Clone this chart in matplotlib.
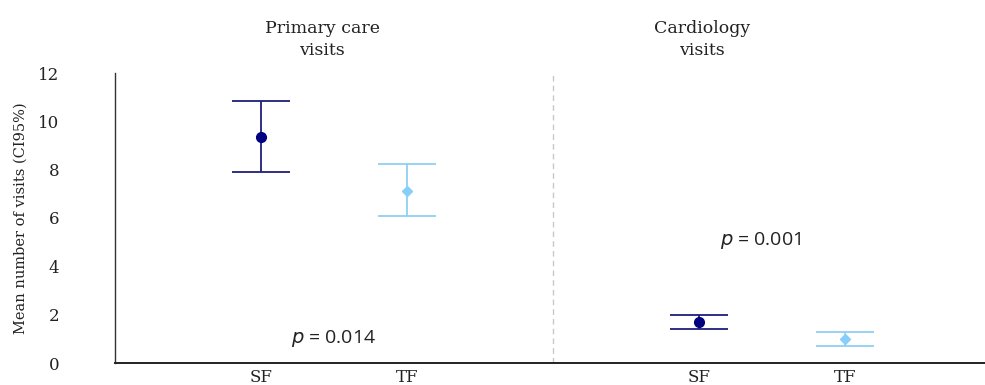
import matplotlib
matplotlib.use('Agg')
import matplotlib.pyplot as plt

# data
groups = ['SF', 'TF', 'SF', 'TF']
panels = ['Primary care\nvisits', 'Cardiology\nvisits']
means = [9.36, 7.13, 1.70, 0.99]
lower = [7.92, 6.10, 1.39, 0.72]
upper = [10.84, 8.22, 1.99, 1.27]
p_labels = ['0.014', '0.001']
p_heights = [1.03, 5.05]

xpos = [1, 2, 4, 5]
colors = ['#000080', '#87CEFA', '#000080', '#87CEFA']
line_colors = ['#1f1f7a', '#8fd0f5', '#1f1f7a', '#8fd0f5']
markers = ['o', 'D', 'o', 'D']
msizes = [7, 5, 7, 5]

serif = ['DejaVu Serif']
sans = ['Open Sans', 'DejaVu Sans']

fig = plt.figure(figsize=(9.85, 3.85), dpi=100)
ax = fig.add_axes([115 / 985, 22 / 385, 1 - 115 / 985, 290 / 385])

for i in range(len(means)):
    err = [[means[i] - lower[i]], [upper[i] - means[i]]]
    ax.errorbar(xpos[i], means[i], yerr=err, fmt=markers[i],
                color=colors[i], ecolor=line_colors[i], elinewidth=1.3,
                capsize=21, capthick=1.3, markersize=msizes[i])

ax.axvline(3, ymin=0, ymax=1.0, color='#c8c8c8', linestyle=(0, (4, 3)),
           linewidth=1)

ax.set_xlim(0, 5.96)
ax.set_ylim(0, 12)
ax.set_yticks(range(0, 13, 2))
ax.set_yticklabels([str(v) for v in range(0, 13, 2)], family=serif,
                   fontsize=12, color='#222222')
ax.set_xticks(xpos)
ax.set_xticklabels(groups, family=serif, fontsize=12, color='#222222')
ax.tick_params(axis='y', length=0, pad=40)
ax.tick_params(axis='x', length=0, pad=4)

for s in ['top', 'right']:
    ax.spines[s].set_visible(False)
ax.spines['left'].set_color('#333333')
ax.spines['bottom'].set_color('#222222')
ax.spines['left'].set_linewidth(1.0)
ax.spines['bottom'].set_linewidth(1.4)

ax.set_ylabel('Mean number of visits (CI95%)', family=serif, fontsize=10.5,
              color='#222222')
ax.yaxis.set_label_coords(-0.1, 0.5)

title_x = [1.42, 4.02]
for i in range(len(panels)):
    ax.text(title_x[i], 12.6, panels[i], ha='center', va='bottom',
            family=serif, fontsize=12.5, color='#222222', linespacing=1.35)

p_x = [1.5, 4.42]
for i in range(len(p_labels)):
    ax.text(p_x[i], p_heights[i], '$p$ = ' + p_labels[i], ha='center',
            va='center', family=sans, fontsize=14, color='#222222')

plt.savefig('out.png', dpi=100)
plt.close()
